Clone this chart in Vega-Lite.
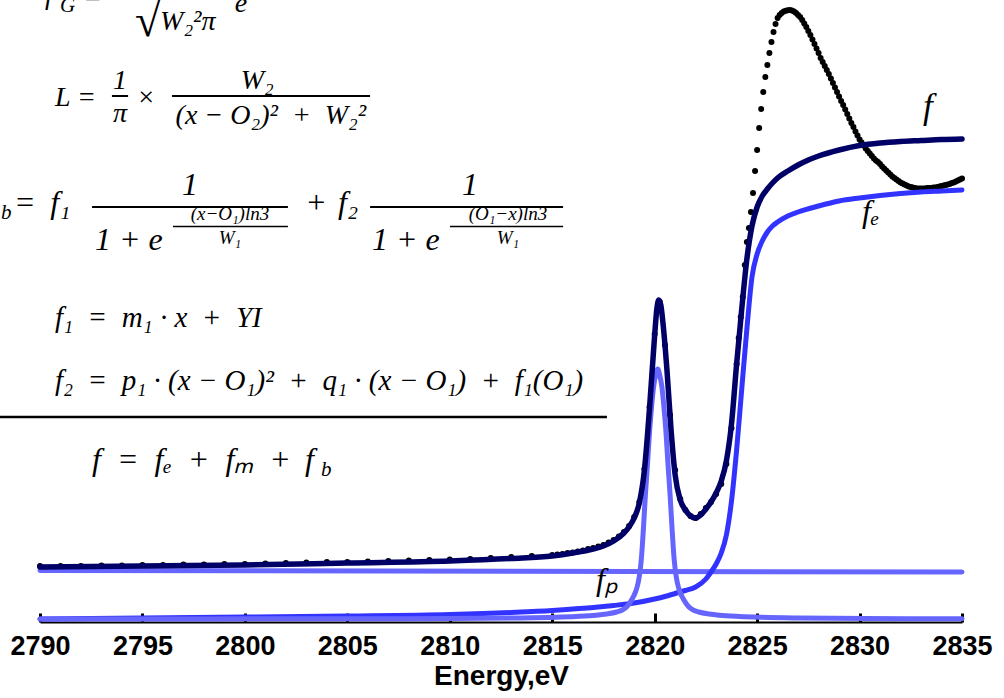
{
"$schema": "https://vega.github.io/schema/vega-lite/v6.json",
"width": 922, "height": 622,
"autosize": {"type": "none"},
"padding": {"left": 40, "top": 0, "right": 42, "bottom": 76},
"background": "white",
"config": {"view": {"stroke": null}},
"encoding": {
  "x": {"field": "e", "type": "quantitative", "scale": {"domain": [2790, 2835], "nice": false, "zero": false},
   "axis": {"title": "Energy,eV", "values": [2790,2795,2800,2805,2810,2815,2820,2825,2830,2835], "format": "d", "grid": false,
    "labelFont": "Liberation Sans", "labelFontWeight": "bold", "labelFontSize": 27, "labelColor": "black", "labelPadding": 20, "labelFlush": false, "labelOverlap": false,
    "tickSize": -9, "tickWidth": 3, "tickColor": "black", "domainColor": "black", "domainWidth": 2,
    "titleFont": "Liberation Sans", "titleFontWeight": "bold", "titleFontSize": 28, "titleColor": "black", "titlePadding": 3}},
  "y": {"field": "v", "type": "quantitative", "scale": {"domain": [-0.03, 6.19], "nice": false, "zero": false}, "axis": null}
},
"datasets": {
"pts": [
{"e":2790,"v":0.53},{"e":2791,"v":0.53},{"e":2792,"v":0.53},{"e":2793,"v":0.535},{"e":2794,"v":0.535},{"e":2795,"v":0.54},{"e":2796,"v":0.54},{"e":2797,"v":0.545},{"e":2798,"v":0.545},{"e":2799,"v":0.55},{"e":2800,"v":0.55},{"e":2801,"v":0.555},{"e":2802,"v":0.56},{"e":2803,"v":0.565},{"e":2804,"v":0.57},{"e":2805,"v":0.57},{"e":2806,"v":0.575},{"e":2807,"v":0.58},{"e":2808,"v":0.585},{"e":2809,"v":0.59},{"e":2810,"v":0.595},{"e":2811,"v":0.6},{"e":2812,"v":0.61},{"e":2813,"v":0.62},{"e":2814,"v":0.63},{"e":2815,"v":0.64},
{"e":2815.25,"v":0.645},{"e":2815.5,"v":0.65},{"e":2815.75,"v":0.66},{"e":2816,"v":0.665},{"e":2816.25,"v":0.675},{"e":2816.5,"v":0.685},{"e":2816.75,"v":0.7},{"e":2817,"v":0.71},{"e":2817.25,"v":0.725},{"e":2817.5,"v":0.74},{"e":2817.75,"v":0.765},{"e":2818,"v":0.79},{"e":2818.25,"v":0.825},{"e":2818.5,"v":0.87},{"e":2818.75,"v":0.93},{"e":2819,"v":1.02},{"e":2819.25,"v":1.17},{"e":2819.5,"v":1.5},{"e":2819.75,"v":2.12},{"e":2820,"v":2.85},{"e":2820.25,"v":3.17},{"e":2820.5,"v":2.74},{"e":2820.75,"v":2.04},{"e":2821,"v":1.49},{"e":2821.25,"v":1.2},{"e":2821.5,"v":1.09},{"e":2821.75,"v":1.03},{"e":2822,"v":1.01},{"e":2822.25,"v":1.05},{"e":2822.5,"v":1.11},{"e":2822.75,"v":1.17},{"e":2823,"v":1.25},{"e":2823.25,"v":1.35},{"e":2823.5,"v":1.55},{"e":2823.75,"v":1.91},{"e":2824,"v":2.55},
{"e":2824.1,"v":2.81},{"e":2824.2,"v":3.02},{"e":2824.3,"v":3.22},{"e":2824.4,"v":3.54},{"e":2824.5,"v":3.77},{"e":2824.6,"v":3.91},{"e":2824.7,"v":4.07},{"e":2824.8,"v":4.26},{"e":2824.9,"v":4.48},{"e":2825,"v":4.69},{"e":2825.1,"v":4.91},{"e":2825.2,"v":5.1},{"e":2825.3,"v":5.27},{"e":2825.4,"v":5.42},{"e":2825.5,"v":5.54},{"e":2825.6,"v":5.66},{"e":2825.7,"v":5.77},{"e":2825.8,"v":5.87},{"e":2825.9,"v":5.95},{"e":2826,"v":6.01},{"e":2826.1,"v":6.04},{"e":2826.2,"v":6.06},{"e":2826.3,"v":6.075},{"e":2826.4,"v":6.082},{"e":2826.5,"v":6.087},{"e":2826.6,"v":6.09},{"e":2826.7,"v":6.085},{"e":2826.8,"v":6.075},{"e":2826.9,"v":6.06},{"e":2827,"v":6.04},{"e":2827.1,"v":6.02},{"e":2827.2,"v":5.99},{"e":2827.3,"v":5.955},{"e":2827.4,"v":5.92},{"e":2827.5,"v":5.88},{"e":2827.6,"v":5.84},{"e":2827.7,"v":5.795},{"e":2827.8,"v":5.75},{"e":2827.9,"v":5.705},{"e":2828,"v":5.66},{"e":2828.1,"v":5.61},{"e":2828.2,"v":5.57},{"e":2828.3,"v":5.53},{"e":2828.4,"v":5.49},{"e":2828.5,"v":5.45},{"e":2828.6,"v":5.405},{"e":2828.7,"v":5.36},{"e":2828.8,"v":5.315},{"e":2828.9,"v":5.27},{"e":2829,"v":5.225},{"e":2829.1,"v":5.18},{"e":2829.2,"v":5.14},{"e":2829.3,"v":5.095},{"e":2829.4,"v":5.05},{"e":2829.5,"v":5.005},{"e":2829.6,"v":4.96},{"e":2829.7,"v":4.92},{"e":2829.8,"v":4.875},{"e":2829.9,"v":4.835},{"e":2830,"v":4.795},{"e":2830.1,"v":4.765},{"e":2830.2,"v":4.735},{"e":2830.3,"v":4.705},{"e":2830.4,"v":4.68},{"e":2830.5,"v":4.655},{"e":2830.6,"v":4.63},{"e":2830.7,"v":4.605},{"e":2830.8,"v":4.585},{"e":2830.9,"v":4.57},{"e":2831,"v":4.55},{"e":2831.1,"v":4.525},{"e":2831.2,"v":4.505},{"e":2831.3,"v":4.485},{"e":2831.4,"v":4.465},{"e":2831.5,"v":4.445},{"e":2831.6,"v":4.425},{"e":2831.7,"v":4.41},{"e":2831.8,"v":4.395},{"e":2831.9,"v":4.38},{"e":2832,"v":4.365},{"e":2832.1,"v":4.355},{"e":2832.2,"v":4.345},{"e":2832.3,"v":4.335},{"e":2832.4,"v":4.325},{"e":2832.5,"v":4.32},{"e":2832.6,"v":4.315},{"e":2832.7,"v":4.31},{"e":2832.8,"v":4.305},{"e":2832.9,"v":4.305},{"e":2833,"v":4.305},{"e":2833.1,"v":4.305},{"e":2833.2,"v":4.305},{"e":2833.3,"v":4.31},{"e":2833.4,"v":4.31},{"e":2833.5,"v":4.31},{"e":2833.6,"v":4.315},{"e":2833.7,"v":4.315},{"e":2833.8,"v":4.32},{"e":2833.9,"v":4.325},{"e":2834,"v":4.33},{"e":2834.1,"v":4.335},{"e":2834.2,"v":4.34},{"e":2834.3,"v":4.345},{"e":2834.4,"v":4.35},{"e":2834.5,"v":4.36},{"e":2834.6,"v":4.365},{"e":2834.7,"v":4.375},{"e":2834.8,"v":4.385},{"e":2834.9,"v":4.395},{"e":2835,"v":4.405}
],
"fit": [
{"e":2790,"v":0.52},{"e":2795,"v":0.53},{"e":2800,"v":0.54},{"e":2805,"v":0.56},{"e":2810,"v":0.58},{"e":2813,"v":0.605},{"e":2815,"v":0.63},{"e":2816,"v":0.66},{"e":2817,"v":0.7},{"e":2817.5,"v":0.73},{"e":2818,"v":0.78},{"e":2818.5,"v":0.86},{"e":2818.75,"v":0.92},{"e":2819,"v":1.01},{"e":2819.25,"v":1.16},{"e":2819.5,"v":1.49},{"e":2819.75,"v":2.11},{"e":2820,"v":2.84},{"e":2820.1,"v":3.09},{"e":2820.2,"v":3.19},{"e":2820.3,"v":3.14},{"e":2820.4,"v":2.97},{"e":2820.6,"v":2.49},{"e":2820.8,"v":1.89},{"e":2821,"v":1.44},{"e":2821.25,"v":1.19},{"e":2821.5,"v":1.09},{"e":2821.75,"v":1.03},{"e":2822,"v":1.01},{"e":2822.25,"v":1.04},{"e":2822.5,"v":1.1},{"e":2822.75,"v":1.17},{"e":2823,"v":1.26},{"e":2823.25,"v":1.38},{"e":2823.5,"v":1.58},{"e":2823.75,"v":1.95},{"e":2824,"v":2.55},{"e":2824.25,"v":3.1},{"e":2824.5,"v":3.6},{"e":2824.75,"v":3.93},{"e":2825,"v":4.12},{"e":2825.25,"v":4.23},{"e":2825.5,"v":4.3},{"e":2825.75,"v":4.36},{"e":2826,"v":4.41},{"e":2826.5,"v":4.48},{"e":2827,"v":4.54},{"e":2827.5,"v":4.59},{"e":2828,"v":4.63},{"e":2829,"v":4.69},{"e":2830,"v":4.735},{"e":2831,"v":4.76},{"e":2832,"v":4.775},{"e":2833,"v":4.785},{"e":2834,"v":4.795},{"e":2835,"v":4.8}
],
"fe": [
{"e":2790,"v":0},{"e":2795,"v":0.01},{"e":2800,"v":0.02},{"e":2805,"v":0.03},{"e":2810,"v":0.045},{"e":2813,"v":0.065},{"e":2815,"v":0.085},{"e":2816,"v":0.1},{"e":2817,"v":0.115},{"e":2818,"v":0.135},{"e":2819,"v":0.16},{"e":2820,"v":0.2},{"e":2820.5,"v":0.225},{"e":2821,"v":0.255},{"e":2821.5,"v":0.285},{"e":2822,"v":0.32},{"e":2822.5,"v":0.4},{"e":2822.75,"v":0.47},{"e":2823,"v":0.55},{"e":2823.25,"v":0.66},{"e":2823.5,"v":0.84},{"e":2823.75,"v":1.18},{"e":2824,"v":1.69},{"e":2824.25,"v":2.3},{"e":2824.5,"v":2.9},{"e":2824.75,"v":3.42},{"e":2825,"v":3.65},{"e":2825.25,"v":3.78},{"e":2825.5,"v":3.87},{"e":2825.75,"v":3.93},{"e":2826,"v":3.97},{"e":2826.5,"v":4.03},{"e":2827,"v":4.07},{"e":2828,"v":4.13},{"e":2829,"v":4.18},{"e":2830,"v":4.21},{"e":2831,"v":4.235},{"e":2832,"v":4.255},{"e":2833,"v":4.27},{"e":2834,"v":4.28},{"e":2835,"v":4.29}
],
"fp": [
{"e":2790,"v":0},{"e":2805,"v":0.0025},{"e":2810,"v":0.005},{"e":2813.15,"v":0.01},{"e":2815.15,"v":0.0175},{"e":2816.15,"v":0.025},{"e":2817.15,"v":0.0375},{"e":2817.65,"v":0.05},{"e":2818.15,"v":0.07},{"e":2818.4,"v":0.0875},{"e":2818.65,"v":0.125},{"e":2818.9,"v":0.2},{"e":2819.05,"v":0.2625},{"e":2819.15,"v":0.325},{"e":2819.25,"v":0.425},{"e":2819.35,"v":0.6},{"e":2819.45,"v":0.9},{"e":2819.55,"v":1.25},{"e":2819.65,"v":1.55},{"e":2819.75,"v":1.875},{"e":2819.85,"v":2.125},{"e":2819.95,"v":2.325},{"e":2820.05,"v":2.4375},{"e":2820.15,"v":2.5},{"e":2820.25,"v":2.4375},{"e":2820.35,"v":2.325},{"e":2820.45,"v":2.125},{"e":2820.55,"v":1.875},{"e":2820.65,"v":1.55},{"e":2820.75,"v":1.25},{"e":2820.85,"v":0.9},{"e":2820.95,"v":0.6},{"e":2821.05,"v":0.425},{"e":2821.15,"v":0.325},{"e":2821.25,"v":0.2625},{"e":2821.4,"v":0.2},{"e":2821.65,"v":0.125},{"e":2821.9,"v":0.0875},{"e":2822.15,"v":0.07},{"e":2822.65,"v":0.05},{"e":2823.15,"v":0.0375},{"e":2824.15,"v":0.025},{"e":2825.15,"v":0.0175},{"e":2827.15,"v":0.01},{"e":2830.3,"v":0.005},{"e":2835,"v":0.003}
],
"fb": [{"e":2790,"v":0.485},{"e":2835,"v":0.47}],
"txt": [
{"k":"L28","e":2790.24,"v":6.15,"t":"f"},
{"k":"S20","e":2790.98,"v":6.07,"t":"G"},
{"k":"L28","e":2792.1,"v":6.13,"t":"="},
{"k":"R","e":2794.64,"v":5.83,"t":"√"},
{"k":"L28","e":2795.86,"v":5.89,"t":"W₂²π"},
{"k":"L28","e":2799.5,"v":6.07,"t":"e"},
{"k":"L28","e":2790.73,"v":5.13,"t":"L ="},
{"k":"C28","e":2793.9,"v":5.3,"t":"1"},
{"k":"C28","e":2793.9,"v":4.97,"t":"π"},
{"k":"C28","e":2795.17,"v":5.13,"t":"×"},
{"k":"C28","e":2800.6,"v":5.3,"t":"W₂"},
{"k":"C28","e":2801.27,"v":4.95,"t":"(x − O₂)²\u2002+\u2002W₂²"},
{"k":"L30","e":2786.83,"v":4.06,"t":"f"},
{"k":"S20","e":2788.1,"v":4.0,"t":"b"},
{"k":"L30","e":2788.73,"v":4.06,"t":"="},
{"k":"L30","e":2790.5,"v":4.06,"t":"f₁"},
{"k":"C30","e":2797.32,"v":4.24,"t":"1"},
{"k":"L30","e":2792.68,"v":3.69,"t":"1 + e"},
{"k":"C17","e":2799.27,"v":3.995,"t":"(x−O₁)ln3"},
{"k":"C17","e":2799.27,"v":3.75,"t":"W₁"},
{"k":"L30","e":2802.95,"v":4.06,"t":"+"},
{"k":"L30","e":2804.55,"v":4.06,"t":"f₂"},
{"k":"C30","e":2810.99,"v":4.24,"t":"1"},
{"k":"L30","e":2806.2,"v":3.69,"t":"1 + e"},
{"k":"C17","e":2812.84,"v":3.995,"t":"(O₁−x)ln3"},
{"k":"C17","e":2812.84,"v":3.75,"t":"W₁"},
{"k":"L29","e":2790.73,"v":2.92,"t":"f₁\u2002=\u2002m₁ · x\u2002+\u2002YI"},
{"k":"L29","e":2790.73,"v":2.29,"t":"f₂\u2002=\u2002p₁ · (x − O₁)²\u2002+\u2002q₁ · (x − O₁)\u2002+\u2002f₁(O₁)"},
{"k":"L30","e":2792.54,"v":1.49,"t":"f\u2002=\u2002fₑ\u2002+\u2002fₘ\u2002+"},
{"k":"L30","e":2802.93,"v":1.49,"t":"f"},
{"k":"S20","e":2803.72,"v":1.43,"t":"b"},
{"k":"L34","e":2833.1,"v":5.01,"t":"f"},
{"k":"L30","e":2830.12,"v":3.97,"t":"fₑ"},
{"k":"L30","e":2817.14,"v":0.29,"t":"fₚ"}
],
"bars": [
{"k":"m","e":2793.51,"e2":2794.3,"v":5.23},
{"k":"m","e":2796.44,"e2":2806.11,"v":5.23},
{"k":"m","e":2792.54,"e2":2802.1,"v":4.12},
{"k":"m","e":2806.11,"e2":2815.53,"v":4.12},
{"k":"s","e":2796.49,"e2":2802.1,"v":3.925},
{"k":"s","e":2810.01,"e2":2815.53,"v":3.925},
{"k":"r","e":2787.8,"e2":2817.67,"v":2.02}
]
},
"layer": [
{"data": {"name": "pts"}, "mark": {"type": "point", "filled": true, "color": "black", "size": 36, "opacity": 1}},
{"data": {"name": "fb"}, "mark": {"type": "line", "color": "#6666ff", "strokeWidth": 5, "strokeCap": "round"}},
{"data": {"name": "fe"}, "mark": {"type": "line", "color": "#3333ff", "strokeWidth": 5, "strokeCap": "round", "interpolate": "monotone"}},
{"data": {"name": "fp"}, "mark": {"type": "line", "color": "#6666ff", "strokeWidth": 5, "strokeCap": "round", "interpolate": "monotone"}},
{"data": {"name": "fit"}, "mark": {"type": "line", "color": "#000066", "strokeWidth": 5.5, "strokeCap": "round", "interpolate": "monotone"}},
{"data": {"name": "bars"}, "transform": [{"filter": "datum.k == 'm'"}], "mark": {"type": "rule", "color": "black", "strokeWidth": 2},
 "encoding": {"x2": {"field": "e2"}}},
{"data": {"name": "bars"}, "transform": [{"filter": "datum.k == 's'"}], "mark": {"type": "rule", "color": "black", "strokeWidth": 1.5},
 "encoding": {"x2": {"field": "e2"}}},
{"data": {"name": "bars"}, "transform": [{"filter": "datum.k == 'r'"}], "mark": {"type": "rule", "color": "black", "strokeWidth": 2.5},
 "encoding": {"x2": {"field": "e2"}}},
{"data": {"name": "txt"}, "transform": [{"filter": "datum.k == 'L28'"}], "mark": {"type": "text", "font": "Liberation Serif", "fontStyle": "italic", "fontSize": 28, "align": "left", "baseline": "alphabetic", "color": "black"},
 "encoding": {"text": {"field": "t"}}},
{"data": {"name": "txt"}, "transform": [{"filter": "datum.k == 'L29'"}], "mark": {"type": "text", "font": "Liberation Serif", "fontStyle": "italic", "fontSize": 29, "align": "left", "baseline": "alphabetic", "color": "black"},
 "encoding": {"text": {"field": "t"}}},
{"data": {"name": "txt"}, "transform": [{"filter": "datum.k == 'C28'"}], "mark": {"type": "text", "font": "Liberation Serif", "fontStyle": "italic", "fontSize": 28, "align": "center", "baseline": "alphabetic", "color": "black"},
 "encoding": {"text": {"field": "t"}}},
{"data": {"name": "txt"}, "transform": [{"filter": "datum.k == 'L30'"}], "mark": {"type": "text", "font": "Liberation Serif", "fontStyle": "italic", "fontSize": 32, "align": "left", "baseline": "alphabetic", "color": "black"},
 "encoding": {"text": {"field": "t"}}},
{"data": {"name": "txt"}, "transform": [{"filter": "datum.k == 'L34'"}], "mark": {"type": "text", "font": "Liberation Serif", "fontStyle": "italic", "fontSize": 35, "align": "left", "baseline": "alphabetic", "color": "black"},
 "encoding": {"text": {"field": "t"}}},
{"data": {"name": "txt"}, "transform": [{"filter": "datum.k == 'C30'"}], "mark": {"type": "text", "font": "Liberation Serif", "fontStyle": "italic", "fontSize": 32, "align": "center", "baseline": "alphabetic", "color": "black"},
 "encoding": {"text": {"field": "t"}}},
{"data": {"name": "txt"}, "transform": [{"filter": "datum.k == 'C17'"}], "mark": {"type": "text", "font": "Liberation Serif", "fontStyle": "italic", "fontSize": 19, "align": "center", "baseline": "alphabetic", "color": "black"},
 "encoding": {"text": {"field": "t"}}},
{"data": {"name": "txt"}, "transform": [{"filter": "datum.k == 'S20'"}], "mark": {"type": "text", "font": "Liberation Serif", "fontStyle": "italic", "fontSize": 21, "align": "left", "baseline": "alphabetic", "color": "black"},
 "encoding": {"text": {"field": "t"}}},
{"data": {"name": "txt"}, "transform": [{"filter": "datum.k == 'R'"}], "mark": {"type": "text", "font": "Liberation Serif", "fontSize": 46, "align": "left", "baseline": "alphabetic", "color": "black"},
 "encoding": {"text": {"field": "t"}}}
]
}
